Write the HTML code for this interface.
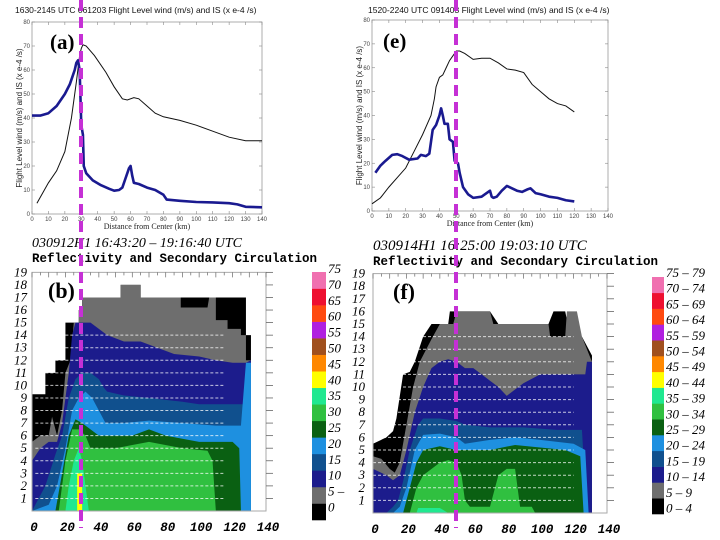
<!DOCTYPE html>
<html><head><meta charset="utf-8">
<style>
html,body{margin:0;padding:0;background:#fff;}
svg{display:block;}
.tk{font-family:"Liberation Sans",sans-serif;font-size:6px;fill:#444;}
.it{font-family:"Liberation Serif",serif;font-style:italic;fill:#000;}
.mono{font-family:"Liberation Mono",monospace;font-weight:bold;fill:#000;}
</style></head>
<body>
<svg id="fig" width="720" height="540" viewBox="0 0 720 540" xmlns="http://www.w3.org/2000/svg">
<g id="gA"></g>
<g id="gE"></g>
<g id="gB"></g>
<g id="gF"></g>
<g id="gTop"></g>
</svg>
<script>
const aWindX=[3,10,15,20,24,27,29,30,31,33,38,45,50,55,58,62,65,70,75,80,90,100,110,120,130,140];
const aWindY=[4.5,13,18,26,40,55,66,69,70.5,70,66,59,53,48,47.5,48.5,48,45,42,40.5,39,37,34.5,32,30.5,30.5];
const aIsX=[0,5,10,15,20,23,25,26,27,28,29,30,31,31.5,33,37,42,47,50,53,55,57,59,60,61,62,65,70,75,80,82,90,100,110,120,125,130,140];
const aIsY=[41,41,42,45,50,54,58,60,63,64,60,37,33,20,17,14,12,10.5,9.7,10,11,15,19,20,16,13,12.5,11,10,8,6,5.5,5,4.8,4.5,4,3,2.8];
const eWindX=[0,5,10,15,20,25,30,35,37,38,40,42,44,46,48,50,52,55,60,65,70,75,80,85,90,95,100,105,110,115,120];
const eWindY=[3,5.5,10,14,18,25,32,40,47,52,56,57,60,63,65,67,67,66,63.5,64,64,62,59.5,59,58,53,50,47,45,44,41.5];
const eIsX=[2,5,8,12,15,18,22,27,29,32,34,36,38,40,41,42,43,45,46,48,49,51,52,54,57,60,65,68,70,71,72,74,77,80,83,86,89,92,94,97,100,105,110,115,120];
const eIsY=[16,19,21,23.5,23.8,23,21.5,22,23.5,23,24,34,36,40,43,40,36.5,36.5,30,29,21,20,16,10,7,5.5,6,7.5,8.5,6,5.5,6,8.5,10.5,9.5,8.5,8,9,9.5,7.5,7,6,5.5,4.5,4];
const lineXTicks=[0,10,20,30,40,50,60,70,80,90,100,110,120,130,140];
const lineYTicks=[0,10,20,30,40,50,60,70,80];

const levelLabels=[0,5,10,15,20,25,30,35,40,45,50,55,60,65,70];
const levelColors=["#000000","#6e6e6e","#1c1c8c","#10508e","#1e90e0","#0a6012","#30c040","#20e890","#ffff00","#ff8800","#a0501e","#b020e0","#ff4a10","#ee1030","#f070b0"];
const fRangeLabels=["0 – 4","5 – 9","10 – 14","15 – 19","20 – 24","25 – 29","30 – 34","35 – 39","40 – 44","45 – 49","50 – 54","55 – 59","60 – 64","65 – 69","70 – 74","75 – 79"];
const bRangeLabels=["0","5 –","10","15","20","25","30","35","40","45","50","55","60","65","70","75"];
const heightTicks=[1,2,3,4,5,6,7,8,9,10,11,12,13,14,15,16,17,18,19];
const rangeTicks=[0,20,40,60,80,100,120,140];
const bL0=[[0,9.3],[8,9.3],[8,11],[14,11],[14,12],[20,12],[20,15],[28,15],[28,16],[30,16],[30,17],[53,17],[53,18],[65,18],[65,17],[128,17],[128,14],[131,14],[131,0]];
const bL1=[[0,5.5],[5,6],[10,6],[12,7.5],[15,6],[18,8],[20,11],[23,12],[25,15],[28,15],[28,16],[30,16],[30,17],[53,17],[53,18],[65,18],[65,17],[89,17],[89,16.2],[105,16.2],[106,17],[110,17],[110,15.2],[117,15.2],[117,14.5],[125,14.5],[125,14],[128,14],[128,12],[131,12],[131,0]];
const bL2=[[0,4],[5,5],[10,5.5],[15,5.5],[18,7],[20,9],[22,11],[24,14],[26,15],[35,15],[40,14.5],[45,14],[55,13.5],[65,13.5],[75,13],[85,12.5],[100,12.3],[110,12],[120,11.8],[128,11.8],[131,12],[131,0]];
const bL3=[[0,0],[8,2],[14,4.5],[18,6],[22,9],[26,10.5],[30,11],[35,11],[40,10.5],[43,9.8],[45,9.5],[55,9.2],[70,9],[90,8.7],[100,8.5],[110,8.5],[120,8.5],[128,8.5],[131,8],[131,0]];
const bL4=[[0,0],[10,0.5],[15,2],[20,5],[24,8],[28,9],[32,9.5],[36,9],[40,8],[44,7],[55,7],[70,7.2],[90,7],[110,6.8],[125,6.8],[128,11.8],[131,11.8],[131,0]];
const bL5=[[14,0],[18,3],[22,6],[26,7.3],[30,7],[35,6.5],[40,6],[50,6],[60,6],[70,6.5],[80,6],[100,5.5],[110,5.5],[120,5.5],[124,5],[125,0]];
const bL6=[[16,0],[20,4],[24,6.5],[28,6.5],[32,6],[35,5],[40,5],[50,5],[70,5.5],[90,5],[105,4.8],[108,4],[110,0]];
const bL7=[[20,0],[22,2],[25,4],[28,5],[30,4],[32,2],[34,0]];
const bL8=[[27,0.8],[27,3],[30,3],[30,0.8]];
const fL0=[[0,5.5],[8,6],[12,6.5],[14,7.5],[18,11],[22,11.2],[25,12],[30,14],[35,15],[45,15],[46,16],[55,16],[70,16],[75,15],[105,15],[108,16],[115,16],[118,14],[125,14],[131,12.5],[131,0]];
const fL1=[[0,4.5],[5,4.3],[10,3.5],[13,3.2],[16,4],[20,7],[24,10],[28,12],[35,13.8],[40,15],[48,15],[50,16],[70,16],[72,15],[105,15],[106,14],[115,14],[116,16],[122,16],[125,14],[131,12],[131,0]];
const fL2=[[0,3.5],[8,3],[12,2.6],[16,3],[20,5],[25,8],[30,10],[35,11.5],[40,12],[45,12.2],[50,12],[55,11.5],[60,11.5],[65,11],[70,10.5],[75,10],[80,9.3],[85,9.8],[90,10.3],[100,11],[110,11],[120,11],[127,11],[128,12],[131,12],[131,0]];
const fL3=[[8,0],[12,0.5],[15,1],[18,2.5],[22,5],[27,7],[30,7.5],[40,7.5],[50,7.3],[55,7],[70,6.8],[90,6.8],[110,6.6],[125,6.6],[128,0]];
const fL4=[[12,0],[16,0.5],[20,2],[25,5],[30,6.2],[40,6.3],[50,6],[55,5.5],[70,5.8],[85,6],[100,5.8],[120,5.5],[127,5],[129,0]];
const fL5=[[18,0],[22,2],[26,4],[30,5],[40,5.3],[50,5],[55,5],[70,5],[85,5.4],[100,5.2],[115,5],[124,4.5],[126,0]];
const fL6=[[22,0],[26,2],[30,3],[40,4],[45,4.2],[50,4],[53,3],[55,1],[58,0.5],[70,0.5],[75,3],[80,3.5],[85,3.5],[88,0.5],[95,0.5],[97,0]];
const fL7=[[26,0],[27,0.4],[40,0.4],[45,0]];
const vecRows=[1,2,3,4,5,6,7,8,9,10,11,12,13,14];

const NS="http://www.w3.org/2000/svg";
function mk(tag,attrs,parent){const e=document.createElementNS(NS,tag);for(const k in attrs)e.setAttribute(k,attrs[k]);parent.appendChild(e);return e;}

function linePanel(g,box,title,letter,wx,wy,ix,iy,ylab){
  const sx=v=>box.x0+(v/140)*(box.x1-box.x0);
  const sy=v=>box.y0-(v/80)*(box.y0-box.y1);
  const t=mk('text',{x:box.tx,y:box.ty,'font-size':'8.5',fill:'#111','font-family':'Liberation Sans, sans-serif'},g);
  t.textContent=title;
  
  
  const r=mk('rect',{x:box.x0,y:box.y1,width:box.x1-box.x0,height:box.y0-box.y1,fill:'none',stroke:'#999','stroke-width':0.8},g);
  
  
  lineXTicks.forEach(v=>{
    mk('line',{x1:sx(v),x2:sx(v),y1:box.y0,y2:box.y0-3,stroke:'#888','stroke-width':0.6},g);
    mk('line',{x1:sx(v),x2:sx(v),y1:box.y1,y2:box.y1+3,stroke:'#888','stroke-width':0.6},g);
    const l=mk('text',{x:sx(v),y:box.y0+7,'text-anchor':'middle',class:'tk'},g);l.textContent=v;
    
    
  });
  lineYTicks.forEach(v=>{
    mk('line',{x1:box.x0,x2:box.x0+3,y1:sy(v),y2:sy(v),stroke:'#888','stroke-width':0.6},g);
    mk('line',{x1:box.x1,x2:box.x1-3,y1:sy(v),y2:sy(v),stroke:'#888','stroke-width':0.6},g);
    const l=mk('text',{x:box.x0-2,y:sy(v)+2,'text-anchor':'end',class:'tk'},g);l.textContent=v;
    
    
  });
  const xl=mk('text',{x:(box.x0+box.x1)/2,y:box.y0+15,'text-anchor':'middle','font-size':'8','font-family':'Liberation Serif, serif',fill:'#222'},g);
  xl.textContent='Distance from Center (km)';
  
  
  const yl=mk('text',{x:0,y:0,'text-anchor':'middle','font-size':'8','font-family':'Liberation Sans, sans-serif',fill:'#222',transform:`translate(${box.x0-10},${(box.y0+box.y1)/2}) rotate(-90)`},g);
  yl.textContent=ylab;
  
  
  const pl=mk('text',{x:box.lx,y:box.ly,'font-size':'21','font-weight':'bold','font-family':'Liberation Serif, serif',fill:'#000'},g);
  pl.textContent=letter;
  
  
  const w=mk('polyline',{points:wx.map((v,i)=>sx(v)+','+sy(wy[i])).join(' '),fill:'none',stroke:'#111','stroke-width':1},g);
  
  
  const s=mk('polyline',{points:ix.map((v,i)=>sx(v)+','+sy(iy[i])).join(' '),fill:'none',stroke:'#1a1a90','stroke-width':2.6,'stroke-linejoin':'round'},g);
  
  
}
linePanel(document.getElementById('gA'),{x0:32,x1:262,y0:214,y1:22,tx:15,ty:13,lx:50,ly:49},
 '1630-2145 UTC  061203 Flight Level wind (m/s) and IS (x e-4 /s)','(a)',aWindX,aWindY,aIsX,aIsY,'Flight Level wind (m/s) and IS (x e-4 /s)');
linePanel(document.getElementById('gE'),{x0:372,x1:608,y0:211,y1:20,tx:368,ty:13,lx:383,ly:48},
 '1520-2240 UTC  091403  Flight Level wind (m/s) and IS (x e-4 /s)','(e)',eWindX,eWindY,eIsX,eIsY,'Flight Level wind (m/s) and IS (x e-4 /s)');

function reflPanel(g,box,head1,letter,levels,cb,labels){
  const sx=v=>box.x0+(v/140)*(box.x1-box.x0);
  const z0=box.y0, dz=box.dz;
  const sz=v=>z0-v*dz;
  const h1=mk('text',{x:box.x0,y:box.hy,'font-size':box.hs,class:'it'},g);
  h1.textContent=head1;
  
  
  const h2=mk('text',{x:box.x0,y:box.hy+15,'font-size':'12.5',class:'mono'},g);
  h2.textContent='Reflectivity and Secondary Circulation';
  
  
  levels.forEach((pts,i)=>{
    const first=pts[0][1]===0?'':sx(pts[0][0])+','+sz(0)+' ';
    const last=pts[pts.length-1][1]===0?'':' '+sx(pts[pts.length-1][0])+','+sz(0);
    const p=mk('polygon',{points:first+pts.map(q=>sx(q[0])+','+sz(q[1])).join(' ')+last,fill:levelColors[i],stroke:'none'},g);
    
    
  });
  vecRows.forEach(r=>{
    const ln=mk('line',{x1:sx(box.vx0),x2:sx(box.vx1),y1:sz(r),y2:sz(r),stroke:'#fff','stroke-width':1,'stroke-dasharray':'3 2',opacity:0.75},g);
    
    
  });
  const fr=mk('rect',{x:box.x0,y:sz(19),width:box.x1-box.x0,height:sz(0)-sz(19),fill:'none',stroke:'#aaa','stroke-width':1},g);
  
  
  for(let v=0;v<=140;v+=5){
    mk('line',{x1:sx(v),x2:sx(v),y1:sz(19),y2:sz(19)+(v%10?3:5),stroke:'#666','stroke-width':0.7},g);
  }
  heightTicks.forEach(v=>{
    mk('line',{x1:box.x1,x2:box.x1+7,y1:sz(v),y2:sz(v),stroke:'#666','stroke-width':0.8},g);
    const l=mk('text',{x:box.x0-box.yl,y:sz(v)+4,'text-anchor':'end','font-size':'13',class:'it'},g);l.textContent=v;
    
    
  });
  rangeTicks.forEach(v=>{
    const l=mk('text',{x:sx(v)+2,y:box.y0+20,'text-anchor':'middle','font-size':'12.5',class:'mono','font-style':'italic'},g);l.textContent=v;
    
    
  });
  const pl=mk('text',{x:box.lx,y:box.ly,'font-size':'22','font-weight':'bold','font-family':'Liberation Serif, serif',fill:'#000'},g);
  pl.textContent=letter;
  
  
  const n=levelColors.length, bh=(cb.y1-cb.y0)/n;
  levelColors.forEach((c,i)=>{
    const rr=mk('rect',{x:cb.x,y:cb.y1-(i+1)*bh,width:cb.w,height:bh+0.3,fill:c},g);
    
    
  });
  labels.forEach((t,i)=>{
    const l=mk('text',{x:cb.x+cb.w+2,y:cb.lb-i*cb.ls,'font-size':'13',class:'it'},g);l.textContent=t;
    
    
  });
}
reflPanel(document.getElementById('gB'),{x0:32,x1:266,y0:511,dz:12.56,hy:247,hs:14,yl:5,lx:48,ly:298,vx0:2,vx1:115},
 '030912H1  16:43:20 – 19:16:40 UTC','(b)',[bL0,bL1,bL2,bL3,bL4,bL5,bL6,bL7,bL8],
 {x:312,w:14,y0:272,y1:520,lb:511.5,ls:15.9},bRangeLabels);
reflPanel(document.getElementById('gF'),{x0:373,x1:607,y0:513,dz:12.6,hy:250,hs:15,yl:8,lx:393,ly:299,vx0:0,vx1:120},
 '030914H1  16:25:00    19:03:10 UTC','(f)',[fL0,fL1,fL2,fL3,fL4,fL5,fL6,fL7],
 {x:652,w:12,y0:277,y1:514,lb:512.5,ls:15.7},fRangeLabels);

const overlayG=document.getElementById('gTop');
[[81,0,528],[456,0,528]].forEach(d=>{
  const l=mk('line',{x1:d[0],x2:d[0],y1:d[1],y2:d[2],stroke:'#c530d5','stroke-width':4,'stroke-dasharray':'11 6'},overlayG);
  
  
});
</script>
</body></html>
